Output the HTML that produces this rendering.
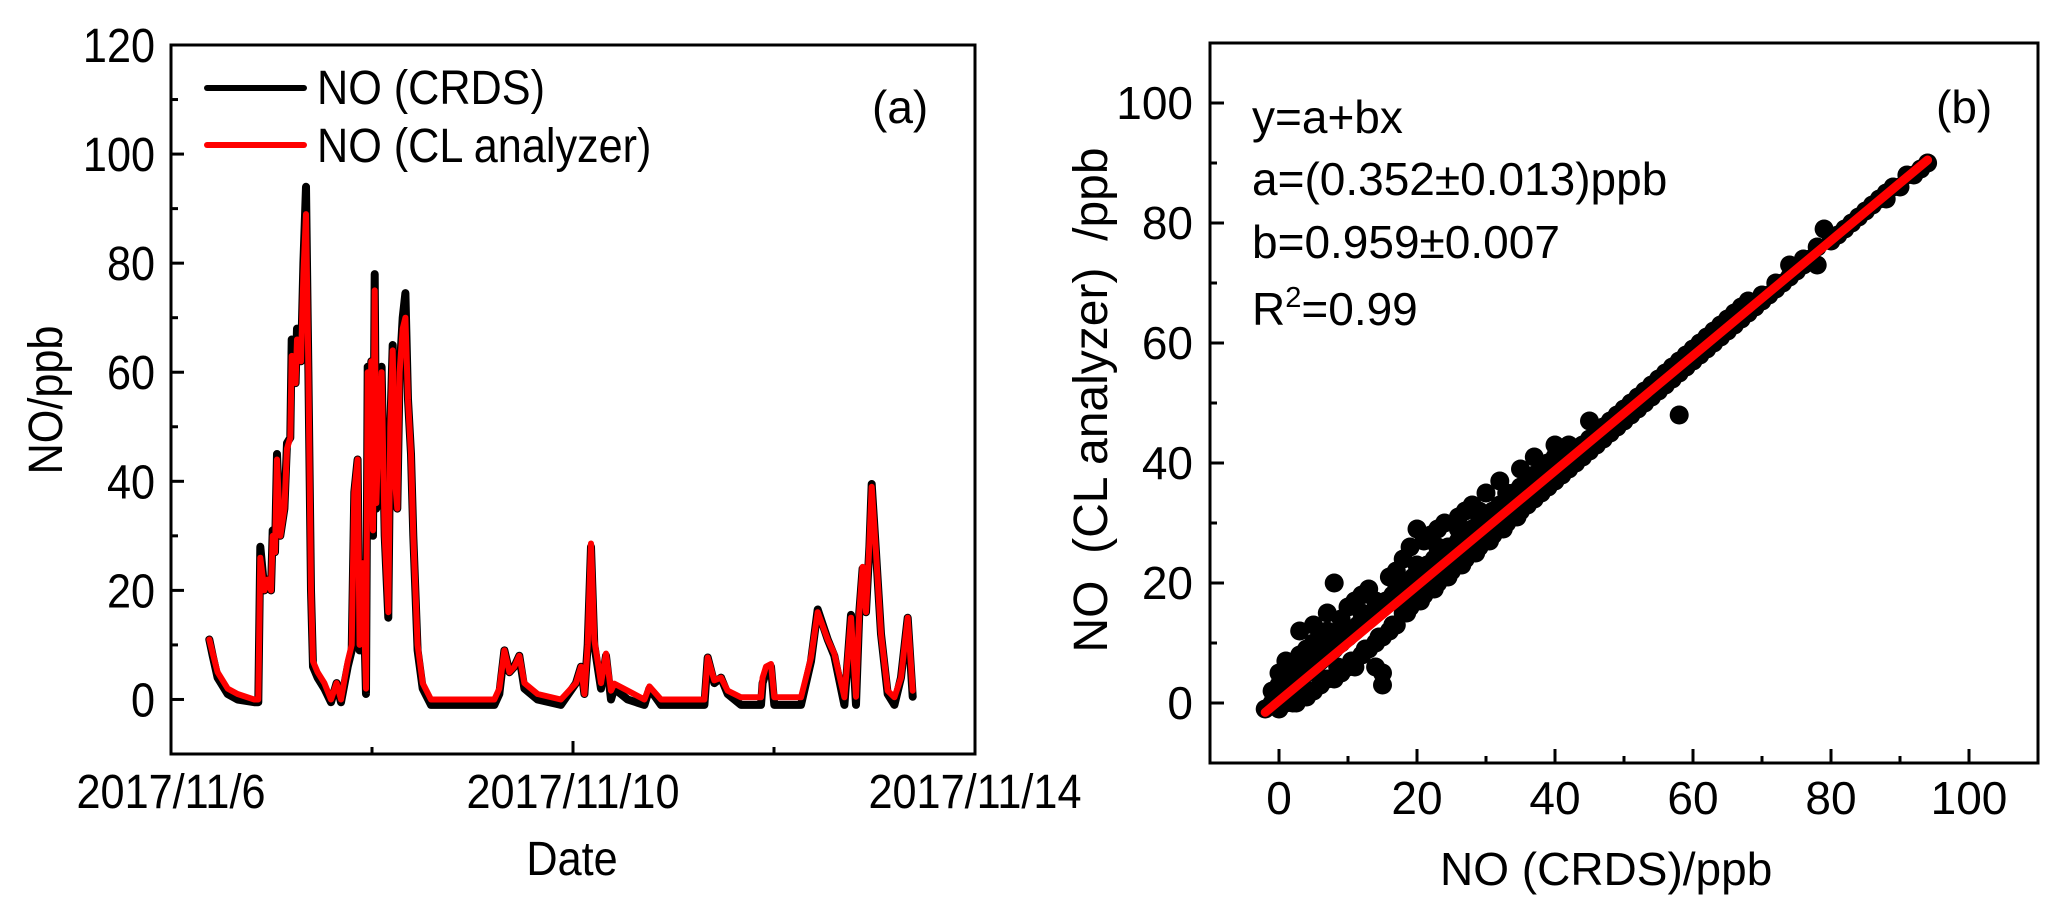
<!DOCTYPE html>
<html><head><meta charset="utf-8"><style>
html,body{margin:0;padding:0;background:#fff;}
svg{display:block;font-family:"Liberation Sans",Arial,sans-serif;}
</style></head><body>
<svg id="fig" width="2067" height="918" viewBox="0 0 2067 918" xmlns="http://www.w3.org/2000/svg">
<g id="panelA"></g>
<g id="panelB"></g>
</svg>
<script>
// ---------- Panel (a) data ----------
const dayLabels = ["2017/11/6","2017/11/10","2017/11/14"];
const dayTicks = [0,2,4,6,8];
const yTicksA = [0,20,40,60,80,100,120];
const tDays = [0.381,0.415,0.464,0.564,0.663,0.829,0.869,0.889,0.929,0.962,0.995,1.012,1.035,1.055,1.088,1.128,1.154,1.187,1.201,1.240,1.254,1.294,1.317,1.343,1.367,1.380,1.393,1.413,1.459,1.526,1.592,1.648,1.692,1.758,1.798,1.824,1.857,1.877,1.907,1.940,1.957,1.977,1.993,2.010,2.027,2.043,2.076,2.096,2.126,2.162,2.182,2.206,2.229,2.252,2.275,2.305,2.332,2.358,2.388,2.411,2.454,2.504,2.587,3.217,3.267,3.317,3.367,3.416,3.466,3.516,3.648,3.880,4.030,4.080,4.113,4.146,4.179,4.212,4.279,4.328,4.378,4.411,4.544,4.710,4.760,4.876,5.307,5.340,5.406,5.473,5.539,5.672,5.871,5.887,5.920,5.970,6.003,6.269,6.368,6.435,6.534,6.600,6.700,6.766,6.816,6.849,6.882,6.915,6.949,6.972,7.015,7.065,7.131,7.198,7.264,7.330,7.380];
const crdsNO = [11,8,4,1,0,-0.5,-0.5,28,20,22,20,31,27,45,30,35,47,48,66,58,68,62,80,94,60,40,20,6,4,2,-0.5,3,-0.5,6,9,38,44,9,25,1,61,40,62,30,78,35,55,61,30,15,50,65,40,35,60,70,74.5,55,45,30,9,2,-1,-1,1,9,5,6,8,2,0,-1,3,6,1,10,28,10,2,8,0,2,0,-1,2,-1,-1,7.7,3,4,1,-1,-1,3,5,6,-1,-1,7,16.5,11,8,-1,15.5,-1,16,24,16,28,39.5,27,12,1,-1,4,15,0.5];
const clNO = [11,8.5,5,2,1,0,0,26,20,22,20,30,27,44,30,35,46,48,63,58,66,62,78,89,60,40,20,7,5,3,0,3,0,7,10,38,44,10,25,2,60,40,62,31,75,36,55,60,30,16,50,64,40,35,60,68,70,55,45,30,10,3,0,0,2,9,5,6,8,3,1,0,3,6,1,10,28.6,11,3,8.4,1.6,2.9,1.6,0,2.4,0,0,7.7,3.5,4,1.6,0.4,0.4,4,6,6.5,0.4,0.4,7.7,16,11,8.4,0.4,15,0.5,16,24.3,16,28.6,39,27,12,1.6,0.4,4,15,1.6];

// ---------- Panel (b) data ----------
const fitA = 0.352, fitB = 0.959;
const fitRange = [-2, 94];
const ticksB = [0,20,40,60,80,100];
const scX = [-2,-1,-1,0,0,0,0,1,1,1,1,2,2,2,3,3,3,3,4,4,4,5,5,5,5,6,6,6,7,7,7,7,8,8,8,9,9,9,10,10,10,11,11,11,12,12,12,13,13,13,14,14,14,15,15,15,15,16,16,16,17,17,17,18,18,18,19,19,19,20,20,20,21,21,21,22,22,22,23,23,23,24,24,24,25,25,26,26,26,27,27,27,28,28,28,29,29,30,30,30,31,31,32,32,32,33,33,34,34,35,35,35,36,36,37,37,37,38,38,39,39,40,40,40,41,41,42,42,43,43,44,44,45,45,45,46,46,47,47,48,48,49,49,50,50,51,51,52,52,53,53,54,54,55,55,56,56,57,57,58,58,58,59,59,60,60,61,61,62,62,63,63,64,64,65,65,66,66,67,67,68,68,70,70,72,72,74,74,76,76,78,78,79,80,82,84,85,86,88,88,90,92,93,94,
  0.5,1.5,2.5,3.5,4.5,5.5,6.5,7.5,8.5,9.5,10.5,11.5,12.5,13.5,14.5,15.5,16.5,17.5,18.5,19.5,20.5,21.5,22.5,23.5,24.5,25.5,26.5,27.5,28.5,29.5,30.5,31.5,33.5,35.5,37.5,
  2.5,4.5,6.5,8.5,10.5,12.5,14.5,16.5,18.5,20.5,22.5,24.5,26.5,28.5,30.5,32.5,34.5,
  3,6,9,12,14,17,20,23,26,29,33,36,39,42,69,71,73,75,77,81,83,87,89,91];
const scY = [-1,0,2,-1,1,3,5,0,2,4,7,0,3,6,1,4,8,12,1,5,9,2,6,10,13,3,7,11,4,8,12,15,4,9,20,5,10,14,6,11,16,6,12,17,8,13,18,9,14,19,10,15,6,11,16,3,5,12,17,21,13,18,22,15,19,24,16,20,26,17,21,29,18,22,27,19,23,28,20,24,29,21,25,30,22,26,23,27,31,24,28,32,25,29,33,26,30,27,31,35,28,32,29,33,37,30,34,31,35,32,36,39,33,37,34,38,41,35,39,36,40,37,41,43,38,42,39,41,40,42,41,43,42,44,47,43,45,44,46,45,47,46,48,47,49,48,50,49,51,50,52,51,53,52,54,53,55,54,56,48,55,57,56,58,57,59,58,60,59,61,60,62,61,63,62,64,63,65,64,66,65,67,67,68,69,70,71,73,73,74,73,76,79,77,79,81,82,83,84,85,86,88,89,90,
  2,3,4,5,6,7,8,9,10,11,12,13,14,15,16,17,18,19,20,21,22,23,24,25,26,26,27,28,29,30,31,32,34,36,38,
  0,2,4,6,7,9,11,13,15,17,19,21,23,25,27,29,31,
  6,9,12,15,17,20,23,26,29,32,35,37,40,43,66,68,70,72,74,78,80,84,86,88];

const NS = "http://www.w3.org/2000/svg";
function mk(tag, parent, attrs){
  const e = document.createElementNS(NS, tag);
  for (const k in attrs) e.setAttribute(k, attrs[k]);
  parent.appendChild(e);
  return e;
}
function txt(parent, x, y, s, size, anchor, sx){
  const t = mk("text", parent, {x:0, y:0, "font-size":size, "text-anchor":anchor||"start", fill:"#000",
    transform:"translate("+x+","+y+") scale("+(sx||1)+",1)"});
  t.textContent = s;
  return t;
}
const NX = 0.9; // narrow font look for panel (a)

// ===== Panel A =====
const A = document.getElementById("panelA");
const aL=171, aR=975, aT=45, aB=754;
const ayMin=-10, ayMax=120, axMax=8;
const ax = d => aL + (d/axMax)*(aR-aL);
const ay = v => aB - (v-ayMin)/(ayMax-ayMin)*(aB-aT);

function series(vals, color, w, name){
  let d = "";
  for (let i=0;i<tDays.length;i++) d += (i?"L":"M")+ax(tDays[i]).toFixed(1)+","+ay(vals[i]).toFixed(1);
  const p = mk("path", A, {d:d, fill:"none", stroke:color, "stroke-width":w, "stroke-linejoin":"round", "stroke-linecap":"round"});
  
  
}
series(crdsNO, "#000", 8, "series-no-crds");
series(clNO, "#ff0000", 6, "series-no-cl-analyzer");

const frameA = mk("rect", A, {x:aL, y:aT, width:aR-aL, height:aB-aT, fill:"none", stroke:"#000", "stroke-width":3});



for (let v=-10; v<=120; v+=10){
  const major = yTicksA.indexOf(v)>=0;
  const tk = mk("line", A, {x1:aL, x2:aL+(major?13:7), y1:ay(v), y2:ay(v), stroke:"#000", "stroke-width":3});
  
  
}
yTicksA.forEach(v=>{
  const t = txt(A, 155, ay(v)+17, String(v), 48, "end", NX);
  
  
});
dayTicks.forEach((d,i)=>{
  const major = (i%2===0);
  const tk = mk("line", A, {x1:ax(d), x2:ax(d), y1:aB, y2:aB-(major?13:7), stroke:"#000", "stroke-width":3});
  
  
});
dayLabels.forEach((s,i)=>{
  const t = txt(A, ax(i*4), 808, s, 48, "middle", NX);
  
  
});
const xtA = txt(A, 572, 875, "Date", 48, "middle", NX);


const ytA = mk("text", A, {x:0, y:0, "font-size":48, "text-anchor":"middle", transform:"translate(62,400) rotate(-90) scale(0.9,1)"});
ytA.textContent = "NO/ppb";



const lg = mk("g", A, {});


const l1 = mk("line", lg, {x1:207, x2:304, y1:88, y2:88, stroke:"#000", "stroke-width":6, "stroke-linecap":"round"});


const t1 = txt(lg, 317, 104, "NO (CRDS)", 48, "start", NX);


const l2 = mk("line", lg, {x1:207, x2:304, y1:145, y2:145, stroke:"#ff0000", "stroke-width":6, "stroke-linecap":"round"});


const t2 = txt(lg, 317, 162, "NO (CL analyzer)", 48, "start", NX);


const pa = txt(A, 872, 123, "(a)", 46);



// ===== Panel B =====
const B = document.getElementById("panelB");
const bL=1210, bR=2038, bT=43, bB=763;
const bx = v => bL + (v+10)/120*(bR-bL);
const by = v => bB - (v+10)/120*(bB-bT);

for (let i=0;i<scX.length;i++){
  const c = mk("circle", B, {cx:bx(scX[i]).toFixed(1), cy:by(scY[i]).toFixed(1), r:9.5, fill:"#000"});
  
  
}
const fit = mk("line", B, {x1:bx(fitRange[0]), y1:by(fitA+fitB*fitRange[0]), x2:bx(fitRange[1]), y2:by(fitA+fitB*fitRange[1]), stroke:"#ff0000", "stroke-width":9, "stroke-linecap":"round"});



const frameB = mk("rect", B, {x:bL, y:bT, width:bR-bL, height:bB-bT, fill:"none", stroke:"#000", "stroke-width":3});


for (let v=-10; v<=110; v+=10){
  const major = ticksB.indexOf(v)>=0;
  if (v>-10 && v<110){
    const ty = mk("line", B, {x1:bL, x2:bL+(major?14:7), y1:by(v), y2:by(v), stroke:"#000", "stroke-width":3});
    
    
    const tx = mk("line", B, {x1:bx(v), x2:bx(v), y1:bB, y2:bB-(major?14:7), stroke:"#000", "stroke-width":3});
    
    
  }
}
ticksB.forEach(v=>{
  const t = txt(B, 1193, by(v)+16, String(v), 46, "end");
  
  
  const u = txt(B, bx(v), 814, String(v), 46, "middle");
  
  
});
const xtB = txt(B, 1440, 885, "NO (CRDS)/ppb", 46);


const ytB = mk("text", B, {x:0, y:0, "font-size":48, "text-anchor":"middle", transform:"translate(1107,400) rotate(-90)"});
ytB.textContent = "NO\u00A0\u00A0(CL analyzer)\u00A0\u00A0/ppb";



const ann = mk("g", B, {});


const a1 = txt(ann, 1252, 133, "y=a+bx", 46);


const a2 = txt(ann, 1252, 195, "a=(0.352\u00B10.013)ppb", 46);


const a3 = txt(ann, 1252, 258, "b=0.959\u00B10.007", 46);


const a4 = txt(ann, 1252, 325, "", 46);


a4.innerHTML = 'R<tspan font-size="29" dy="-18">2</tspan><tspan dy="18">=0.99</tspan>';
const pb = txt(B, 1936, 123, "(b)", 46);


</script>
</body></html>
